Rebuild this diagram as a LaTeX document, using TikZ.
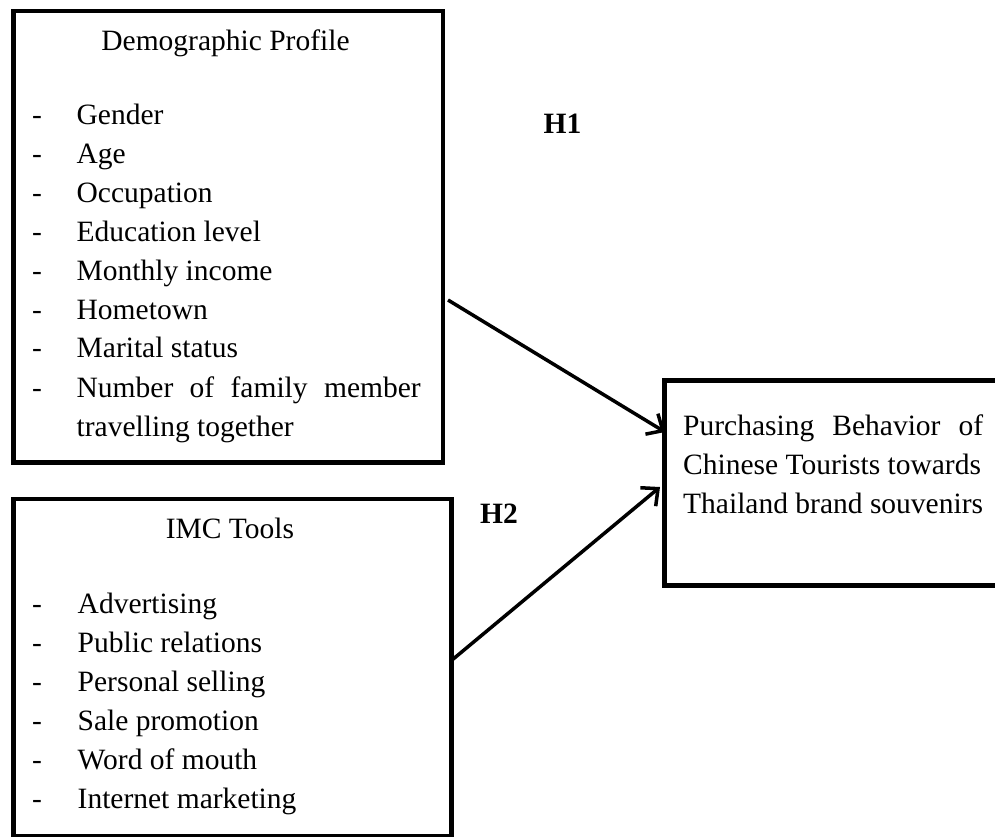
\documentclass[tikz,border=0pt]{standalone}
\usepackage{fontspec}
\setmainfont{Liberation Serif}
\usetikzlibrary{arrows.meta}
\begin{document}
\begin{tikzpicture}[x=1pt,y=-1pt,
  boxframe/.style={draw, line width=4.5pt, inner sep=0pt, anchor=north west},
  txt/.style={font=\fontsize{29.5}{39}\selectfont, inner sep=0pt, anchor=base west},
  ttl/.style={font=\fontsize{29.5}{39}\selectfont, inner sep=0pt, anchor=base},
  hyp/.style={font=\fontsize{29.5}{39}\selectfont\bfseries, inner sep=0pt, anchor=base},
  arr/.style={line width=3.5pt, -{Straight Barb[length=13pt,width=24pt]}}
]
\useasboundingbox (0,0) rectangle (995,836);
% boxes
\node[boxframe, minimum width=429.5pt, minimum height=451.5pt] (demo) at (11,8.5) {};
\node[boxframe, minimum width=438pt, minimum height=337.5pt] (imc) at (11,496.5) {};
\node[boxframe, minimum width=348pt, minimum height=205pt] (pb) at (662,378) {};
% box 1 text
\node[ttl] (demot) at (225.5,50) {Demographic Profile};
\foreach \t [count=\i] in {Gender,Age,Occupation,Education level,Monthly income,Hometown,Marital status}{
  \node[txt] (dd\i) at (32,{124.5+38.9*(\i-1)}) {-};
  \node[txt] (di\i) at (76.5,{124.5+38.9*(\i-1)}) {\t};
}
\node[txt] (dd8) at (32,397) {-};
\node[txt] (di8) at (76.5,397) {\hbox to 344pt{Number\hfill of\hfill family\hfill member}};
\node[txt] (di9) at (76.5,436) {travelling together};
% box 2 text
\node[ttl] (imct) at (230,538) {IMC Tools};
\foreach \t [count=\i] in {Advertising,Public relations,Personal selling,Sale promotion,Word of mouth,Internet marketing}{
  \node[txt] (id\i) at (32,{613+39*(\i-1)}) {-};
  \node[txt] (ii\i) at (77.5,{613+39*(\i-1)}) {\t};
}
% box 3 text
\node[txt] (pb1) at (683,435) {\hbox to 300pt{Purchasing\hfill Behavior\hfill of}};
\node[txt] (pb2) at (683,474) {Chinese Tourists towards};
\node[txt] (pb3) at (683,513) {Thailand brand souvenirs};
% hypotheses
\node[hyp] (h1) at (562.5,133) {H1};
\node[hyp] (h2) at (499,523) {H2};
% arrows
\coordinate (a1s) at (448,300);
\coordinate (a1e) at (665,432);
\coordinate (a2s) at (452,660);
\coordinate (a2e) at (660,487);
\draw[arr] (a1s) -- (a1e);
\draw[arr] (a2s) -- (a2e);
\end{tikzpicture}
\end{document}
